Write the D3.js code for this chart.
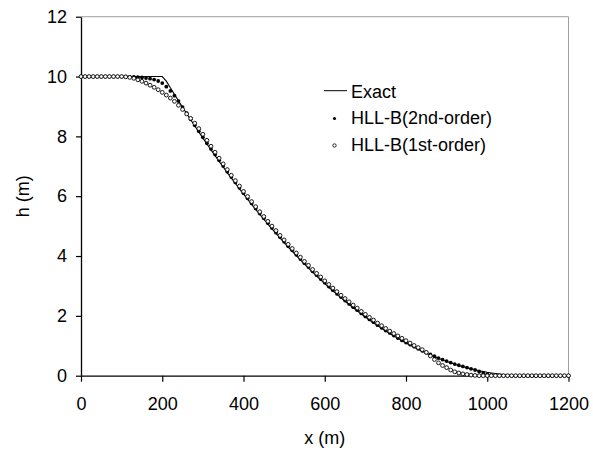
<!DOCTYPE html>
<html>
<head>
<meta charset="utf-8">
<script src="https://cdn.jsdelivr.net/npm/d3@7"></script>
<style>
  body { margin: 0; background: #fff; }
  svg text { font-family: "Liberation Sans", Arial, sans-serif; fill: #000; }
</style>
</head>
<body>
<svg id="dambreak" width="593" height="453"></svg>
<script>
// x positions of the grid (m)
var xPos = [0, 10, 20, 30, 40, 50, 60, 70, 80, 90, 100, 110, 120, 130, 140, 150, 160, 170, 180, 190,
  200, 210, 220, 230, 240, 250, 260, 270, 280, 290, 300, 310, 320, 330, 340, 350, 360, 370, 380, 390,
  400, 410, 420, 430, 440, 450, 460, 470, 480, 490, 500, 510, 520, 530, 540, 550, 560, 570, 580, 590,
  600, 610, 620, 630, 640, 650, 660, 670, 680, 690, 700, 710, 720, 730, 740, 750, 760, 770, 780, 790,
  800, 810, 820, 830, 840, 850, 860, 870, 880, 890, 900, 910, 920, 930, 940, 950, 960, 970, 980, 990,
  1000, 1010, 1020, 1030, 1040, 1050, 1060, 1070, 1080, 1090, 1100, 1110, 1120, 1130, 1140, 1150, 1160, 1170, 1180, 1190, 1200];

// Exact depth (m)
var exactH = [10, 10, 10, 10, 10, 10, 10, 10, 10, 10, 10, 10, 10, 10, 10, 10, 10, 10, 10, 10,
  10, 9.844, 9.623, 9.404, 9.188, 8.974, 8.763, 8.554, 8.348, 8.145, 7.943, 7.745, 7.549, 7.355, 7.164, 6.976, 6.79, 6.606, 6.425, 6.247,
  6.071, 5.897, 5.726, 5.558, 5.392, 5.229, 5.068, 4.909, 4.754, 4.6, 4.449, 4.301, 4.155, 4.012, 3.871, 3.733, 3.597, 3.464, 3.333, 3.205,
  3.08, 2.956, 2.836, 2.718, 2.602, 2.489, 2.378, 2.27, 2.165, 2.061, 1.961, 1.863, 1.767, 1.674, 1.584, 1.496, 1.41, 1.328, 1.247, 1.169,
  1.094, 1.021, 0.95, 0.883, 0.817, 0.754, 0.694, 0.636, 0.581, 0.528, 0.478, 0.43, 0.385, 0.342, 0.302, 0.264, 0.229, 0.196, 0.166, 0.139,
  0.113, 0.091, 0.071, 0.053, 0.038, 0.025, 0.015, 0.008, 0.003, 0, 0, 0, 0, 0, 0, 0, 0, 0, 0, 0, 0];

// HLL-B 2nd-order
var secondH = [10, 10, 10, 10, 10, 10, 10, 10, 10, 10, 10, 10, 9.99, 9.99, 9.98, 9.97, 9.95, 9.93, 9.9, 9.85,
  9.78, 9.66, 9.52, 9.36, 9.18, 8.98, 8.78, 8.57, 8.37, 8.17, 7.97, 7.77, 7.58, 7.39, 7.2, 7.01, 6.82, 6.64, 6.46, 6.28,
  6.1, 5.93, 5.76, 5.59, 5.42, 5.26, 5.1, 4.94, 4.78, 4.63, 4.48, 4.33, 4.19, 4.04, 3.9, 3.76, 3.63, 3.49, 3.36, 3.23,
  3.11, 2.98, 2.86, 2.74, 2.63, 2.51, 2.4, 2.29, 2.19, 2.08, 1.98, 1.88, 1.79, 1.69, 1.6, 1.51, 1.43, 1.34, 1.26, 1.18,
  1.11, 1.04, 0.97, 0.9, 0.83, 0.77, 0.71, 0.65, 0.59, 0.54, 0.49, 0.44, 0.39, 0.35, 0.31, 0.27, 0.23, 0.19, 0.14, 0.09,
  0.05, 0.02, 0.01, 0, 0, 0, 0, 0, 0, 0, 0, 0, 0, 0, 0, 0, 0, 0, 0, 0, 0];

// HLL-B 1st-order
var firstH = [10, 10, 10, 10, 10, 10, 10, 10, 10, 10, 10, 9.99, 9.97, 9.94, 9.89, 9.84, 9.78, 9.71, 9.64, 9.56,
  9.47, 9.38, 9.28, 9.17, 9.04, 8.9, 8.75, 8.6, 8.44, 8.26, 8.07, 7.87, 7.67, 7.47, 7.27, 7.08, 6.89, 6.7, 6.52, 6.34,
  6.16, 5.99, 5.82, 5.65, 5.48, 5.32, 5.16, 5, 4.85, 4.69, 4.54, 4.39, 4.25, 4.1, 3.96, 3.82, 3.69, 3.55, 3.42, 3.3,
  3.17, 3.05, 2.93, 2.81, 2.69, 2.58, 2.47, 2.36, 2.26, 2.15, 2.05, 1.95, 1.86, 1.76, 1.67, 1.58, 1.49, 1.41, 1.33, 1.25,
  1.17, 1.09, 1.01, 0.94, 0.87, 0.78, 0.66, 0.54, 0.43, 0.34, 0.27, 0.19, 0.13, 0.09, 0.06, 0.04, 0.02, 0.01, 0, 0,
  0, 0, 0, 0, 0, 0, 0, 0, 0, 0, 0, 0, 0, 0, 0, 0, 0, 0, 0, 0, 0];

var xTicks = [0, 200, 400, 600, 800, 1000, 1200];
var yTicks = [0, 2, 4, 6, 8, 10, 12];
var seriesNames = ["Exact", "HLL-B(2nd-order)", "HLL-B(1st-order)"];

let svg = d3.select("svg#dambreak"),
  margin = { top: 16.7, right: 24.5, bottom: 77.3, left: 81 },
  width = +svg.attr("width") - margin.left - margin.right,
  height = +svg.attr("height") - margin.top - margin.bottom;

let xScale = d3.scaleLinear().domain([0, 1200]).range([0, width]),
  yScale = d3.scaleLinear().domain([0, 12]).range([height, 0]);

let g = svg.append("g")
  .attr("transform", "translate(" + margin.left + "," + margin.top + ")");

// gray frame on top and right
g.append("path")
  .attr("d", "M0,0H" + width + "V" + height)
  .attr("fill", "none")
  .attr("stroke", "#a0a0a0")
  .attr("stroke-width", 1);

// axes
let xAxis = g.append("g")
  .attr("transform", "translate(0," + height + ")")
  .call(d3.axisBottom(xScale).tickValues(xTicks).tickFormat(d3.format("d"))
    .tickSize(6).tickPadding(16).tickSizeOuter(0));
let yAxis = g.append("g")
  .call(d3.axisLeft(yScale).tickValues(yTicks).tickFormat(d3.format("d"))
    .tickSize(5).tickPadding(9).tickSizeOuter(0));

[xAxis, yAxis].forEach(function (a) {
  a.select(".domain").attr("stroke", "#000").attr("stroke-width", 1.3);
  a.selectAll(".tick line").attr("stroke", "#000").attr("stroke-width", 1.2);
  a.selectAll(".tick text").style("font-size", "18px").attr("fill", "#000");
});

// data rows
let data = xPos.map(function (x, i) {
  return { x: x, exact: exactH[i], second: secondH[i], first: firstH[i] };
});

// exact line
let line = d3.line()
  .x(function (d) { return xScale(d.x); })
  .y(function (d) { return yScale(d.exact); });

g.append("path")
  .datum(data)
  .attr("d", line)
  .attr("fill", "none")
  .attr("stroke", "#000")
  .attr("stroke-width", 1.1);

// 2nd-order filled dots
g.selectAll(".dot2")
  .data(data)
  .enter()
  .append("circle")
  .attr("class", "dot2")
  .attr("cx", function (d) { return xScale(d.x); })
  .attr("cy", function (d) { return yScale(d.second); })
  .attr("r", 1.9)
  .attr("fill", "#000");

// 1st-order open circles
g.selectAll(".dot1")
  .data(data)
  .enter()
  .append("circle")
  .attr("class", "dot1")
  .attr("cx", function (d) { return xScale(d.x); })
  .attr("cy", function (d) { return yScale(d.first); })
  .attr("r", 1.9)
  .attr("fill", "#fff")
  .attr("stroke", "#000")
  .attr("stroke-width", 0.9);

// axis titles
svg.append("text")
  .attr("x", margin.left + width / 2)
  .attr("y", 444)
  .attr("text-anchor", "middle")
  .style("font-size", "18px")
  .text("x (m)");

svg.append("text")
  .attr("transform", "translate(29," + (margin.top + height / 2) + ") rotate(-90)")
  .attr("text-anchor", "middle")
  .style("font-size", "18px")
  .text("h (m)");

// legend
let legend = svg.append("g").attr("transform", "translate(324,0)");
legend.append("line")
  .attr("x1", 0).attr("x2", 23)
  .attr("y1", 90.7).attr("y2", 90.7)
  .attr("stroke", "#000").attr("stroke-width", 1);
legend.append("circle")
  .attr("cx", 10.5).attr("cy", 118.5).attr("r", 1.6).attr("fill", "#000");
legend.append("circle")
  .attr("cx", 10.5).attr("cy", 145.5).attr("r", 1.7)
  .attr("fill", "#fff").attr("stroke", "#000").attr("stroke-width", 0.8);
legend.selectAll(".legtext")
  .data(seriesNames)
  .enter()
  .append("text")
  .attr("class", "legtext")
  .attr("x", 27)
  .attr("y", function (d, i) { return 97.5 + i * 26.7; })
  .style("font-size", "18px")
  .text(function (d) { return d; });
</script>
</body>
</html>
